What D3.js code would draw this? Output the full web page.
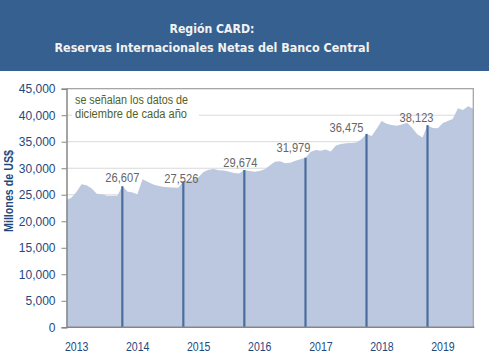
<!DOCTYPE html>
<html><head><meta charset="utf-8">
<script src="https://cdn.jsdelivr.net/npm/d3@7"></script>
<style>html,body{margin:0;padding:0;background:#fff;}svg{display:block;}</style>
</head><body>
<svg id="c" width="489" height="355"></svg>
<script>
// ---- data ----
const startMonth = "2013-01";
const reservas = [
 24000,24500,25500,27000,26800,26200,25200,25100,24800,24800,24800,26607,
 25600,25400,25100,27900,27450,27000,26700,26500,26400,26350,26300,27526,
 27650,27800,28300,29300,29700,29850,29600,29550,29350,29100,29000,29674,
 29500,29350,29500,29800,30500,31200,31300,30950,31050,31400,31700,31979,
 33100,33450,33300,33550,33150,34300,34550,34700,34750,34850,35450,36475,
 36100,37500,38900,38400,38150,38000,38250,38600,37600,36400,35800,38123,
 37600,37550,38500,38900,39300,41300,41000,41700,41200
];
const decYears = [2013,2014,2015,2016,2017,2018];
const decValues = [26607,27526,29674,31979,36475,38123];
const yearLabels = [2013,2014,2015,2016,2017,2018,2019];
const yTicks = [0,5000,10000,15000,20000,25000,30000,35000,40000,45000];
const titleLines = ["Región CARD:","Reservas Internacionales Netas del Banco Central"];
const noteLines = ["se señalan los datos de","diciembre de cada año"];
const yTitle = "Millones de US$";

// ---- drawing ----
const svg = d3.select("#c");
const parse = d3.timeParse("%Y-%m");
const t0 = parse(startMonth);
const dates = reservas.map((v,i)=> d3.timeMonth.offset(t0, i));
const L=66.5, R=473.3, T=88.7, B=327.3;
const x = d3.scaleTime().domain([dates[0], dates[dates.length-1]]).range([L,R]);
const y = d3.scaleLinear().domain([0,45000]).range([B,T]);
const fmt = d3.format(",");
const FONT = "'Liberation Sans', Arial, sans-serif";

// header
svg.append("rect").attr("x",0).attr("y",0).attr("width",489).attr("height",71).attr("fill","#36608f");
svg.selectAll("text.title").data(titleLines).enter().append("text")
  .attr("x",212).attr("y",(d,i)=> i===0?33:52).attr("text-anchor","middle")
  .attr("font-family","'DejaVu Sans', sans-serif").attr("font-weight","bold").attr("font-size",12.5)
  .attr("fill","#f2f2f2")
  .attr("textLength",(d,i)=> i===0?85:315).attr("lengthAdjust","spacingAndGlyphs")
  .text(d=>d);

// gridlines
svg.append("g").selectAll("line").data(yTicks.filter(d=>d>0)).enter().append("line")
  .attr("x1",L).attr("x2",R).attr("y1",d=>y(d)).attr("y2",d=>y(d))
  .attr("stroke","#d9d9d9").attr("stroke-width",1);

// area
const area = d3.area().x((d,i)=>x(dates[i])).y0(B).y1(d=>y(d));
svg.append("path").datum(reservas).attr("d",area).attr("fill","#bcc8e0");

// december lines
const decDates = decYears.map(yr=> parse(yr+"-12"));
svg.append("g").selectAll("line").data(decValues).enter().append("line")
  .attr("x1",(d,i)=>x(decDates[i])).attr("x2",(d,i)=>x(decDates[i]))
  .attr("y1",B).attr("y2",d=>y(d))
  .attr("stroke","#4a6d9e").attr("stroke-width",2.2);

// labels (nudged as in the original)
const nudgeX = [0,-2,-4,-12,-20,-11];
const nudgeY = [-4,1.6,-2.5,-6,-2,-3.5];
svg.append("g").selectAll("text").data(decValues).enter().append("text")
  .attr("x",(d,i)=>x(decDates[i])+nudgeX[i]).attr("y",(d,i)=>y(d)+nudgeY[i])
  .attr("text-anchor","middle").attr("font-family",FONT)
  .attr("font-size",12.5).attr("fill","#666666")
  .attr("textLength",34).attr("lengthAdjust","spacingAndGlyphs").text(d=>fmt(d));

// plot border (top/right)
svg.append("path").attr("d",`M${L},${T}H${R}V${B}`).attr("fill","none").attr("stroke","#a6a6a6").attr("stroke-width",1.3);

// y axis
const yAxis = svg.append("g").attr("transform",`translate(${L},0)`)
  .call(d3.axisLeft(y).tickValues(yTicks).tickFormat(fmt).tickSize(5).tickPadding(6));
yAxis.select(".domain").attr("stroke","#868686").attr("stroke-width",1.5);
yAxis.selectAll(".tick line").attr("stroke","#868686");
yAxis.selectAll("text").attr("font-family",FONT).attr("font-size",12).attr("fill","#1f497d");

// x axis
svg.append("line").attr("x1",L).attr("x2",R+1).attr("y1",B).attr("y2",B).attr("stroke","#868686").attr("stroke-width",1.5);
svg.append("g").selectAll("text").data(yearLabels).enter().append("text")
  .attr("x",d=>x(parse(d+"-01"))-1.5).attr("y",351)
  .attr("font-family",FONT).attr("font-size",12.5).attr("fill","#1f497d")
  .attr("textLength",23.5).attr("lengthAdjust","spacingAndGlyphs")
  .text(d=>d);

// y title
svg.append("text").attr("transform","translate(13,191) rotate(-90)").attr("text-anchor","middle")
  .attr("font-family",FONT).attr("font-weight","bold").attr("font-size",12)
  .attr("fill","#1f497d").attr("textLength",82).attr("lengthAdjust","spacingAndGlyphs").text(yTitle);

// note box
svg.append("rect").attr("x",72).attr("y",92).attr("width",127).attr("height",30).attr("fill","#fff");
svg.append("g").selectAll("text").data(noteLines).enter().append("text")
  .attr("x",75).attr("y",(d,i)=>103.5+i*14.5)
  .attr("font-family",FONT).attr("font-size",12.5).attr("fill","#4f6228")
  .attr("textLength",(d,i)=> i===0?113:112).attr("lengthAdjust","spacingAndGlyphs")
  .text(d=>d);
</script>
</body></html>
